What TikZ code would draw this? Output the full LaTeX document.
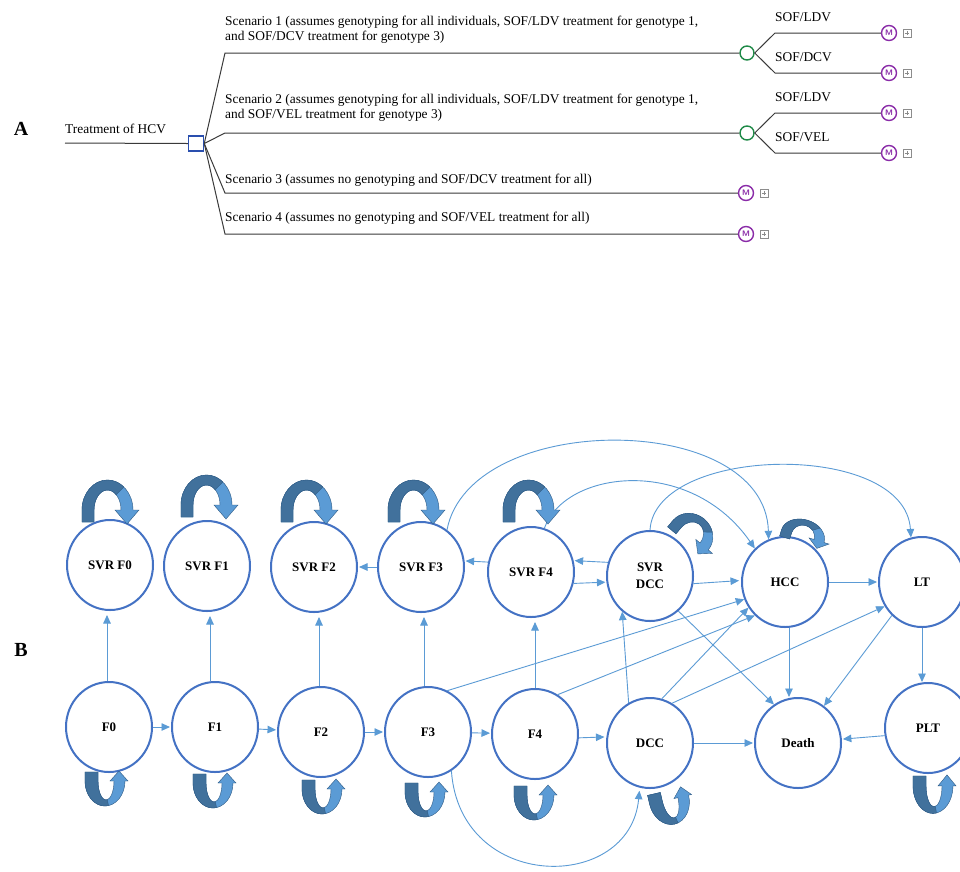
\documentclass[tikz,border=0pt]{standalone}
\usepackage{fontspec}
\setmainfont{Liberation Serif}
\usetikzlibrary{arrows.meta,shapes.geometric,calc}
\definecolor{connblue}{HTML}{5B9BD5}
\definecolor{ringblue}{HTML}{4472C4}
\definecolor{loopdark}{HTML}{41719C}
\definecolor{looplight}{HTML}{5B9BD5}
\definecolor{loopedge}{HTML}{2F5B85}
\definecolor{treegray}{HTML}{3A3A3A}
\definecolor{decblue}{HTML}{2A4FAE}
\definecolor{chancegreen}{HTML}{1F8A48}
\definecolor{markovpurple}{HTML}{8A2BA8}
\definecolor{plusgray}{HTML}{8C8C8C}

\newcommand{\looptop}[2]{%
  \begin{scope}[shift={(#1)},#2]
    \filldraw[draw=loopedge,line width=0.4pt,fill=looplight]
      (-28,0) -- (-28,12) arc[start angle=180,end angle=0,x radius=25.5,y radius=30]
      -- (29,12) -- (17,-2) -- (5,12) -- (11,12)
      arc[start angle=0,end angle=180,x radius=13.5,y radius=20] -- (-16,0) -- cycle;
    \filldraw[draw=loopedge,line width=0.4pt,fill=loopdark]
      (-28,0) -- (-28,12) arc[start angle=180,end angle=50,x radius=25.5,y radius=30]
      -- (6.18,27.32) arc[start angle=50,end angle=180,x radius=13.5,y radius=20]
      -- (-16,0) -- cycle;
  \end{scope}}

\newcommand{\loopbottom}[2]{%
  \begin{scope}[shift={(#1)},#2]
    \filldraw[draw=loopedge,line width=0.4pt,fill=looplight]
      (-24,0) -- (-24,-9) arc[start angle=180,end angle=360,x radius=20,y radius=25]
      -- (19,-9) -- (10,1) -- (1,-9) -- (5,-9)
      arc[start angle=360,end angle=180,x radius=8,y radius=19] -- (-11,0) -- cycle;
    \filldraw[draw=loopedge,line width=0.4pt,fill=loopdark]
      (-24,0) -- (-24,-9) arc[start angle=180,end angle=280,x radius=20,y radius=25]
      -- (-1.61,-27.71) arc[start angle=280,end angle=180,x radius=8,y radius=19]
      -- (-11,0) -- cycle;
  \end{scope}}

\begin{document}
\begin{tikzpicture}[x=1pt,y=1pt,
  hcvstate/.style={ellipse,draw=ringblue,line width=2pt,minimum width=86pt,minimum height=90pt,inner sep=0pt,align=center,font=\bfseries\fontsize{13}{17}\selectfont},
  link/.style={draw=connblue,line width=0.9pt,-{Triangle[length=8.5pt,width=7.5pt]}},
  tree/.style={draw=treegray,line width=1pt},
  decision/.style={rectangle,draw=decblue,line width=1.5pt,minimum size=15pt,inner sep=0pt},
  chance/.style={circle,draw=chancegreen,line width=1.4pt,minimum size=14pt,inner sep=0pt},
  markov/.style={circle,draw=markovpurple,line width=1.4pt,minimum size=15pt,inner sep=0pt,text=markovpurple,font=\sffamily\bfseries\fontsize{8}{8}\selectfont},
  plusbox/.style={rectangle,draw=plusgray,line width=0.6pt,minimum size=8pt,inner sep=0pt,
    path picture={\draw[plusgray,line width=0.6pt]
      ([xshift=-2.2pt]path picture bounding box.center) -- ([xshift=2.2pt]path picture bounding box.center)
      ([yshift=-2.2pt]path picture bounding box.center) -- ([yshift=2.2pt]path picture bounding box.center);}},
  txt/.style={font=\fontsize{13.4}{15}\selectfont,inner sep=0pt,anchor=west,align=left},
  panel/.style={font=\bfseries\fontsize{20}{20}\selectfont}]

\fill[white] (0,0) rectangle (960,-871);
\useasboundingbox (0,0) rectangle (960,-871);

% ---------------- Panel A ----------------
\node[panel] (labA) at (21,-129) {A};
\node[txt] (hcv) at (65,-129) {Treatment of HCV};
\coordinate (root) at (65,-143);
\node[decision] (dec) at (196,-143.5) {};
\draw[tree] (root) -- (dec.west);

\coordinate (s1) at (225,-53);
\coordinate (s2) at (225,-133);
\coordinate (s3) at (225,-193);
\coordinate (s4) at (225,-234);

\node[chance] (c1) at (747,-53) {};
\node[chance] (c2) at (747,-133) {};
\node[markov] (m3) at (746,-193) {M};
\node[markov] (m4) at (746,-234) {M};
\node[plusbox] (p3) at (764,-193) {};
\node[plusbox] (p4) at (764,-234) {};

\draw[tree] (dec.east) -- (s1) -- (c1.west);
\draw[tree] (dec.east) -- (s2) -- (c2.west);
\draw[tree] (dec.east) -- (s3) -- (m3.west);
\draw[tree] (dec.east) -- (s4) -- (m4.west);

\node[txt] (t1) at (225,-30) {Scenario 1 (assumes genotyping for all individuals, SOF/LDV treatment for genotype 1,\\and SOF/DCV treatment for genotype 3)};
\node[txt] (t2) at (225,-107.5) {Scenario 2 (assumes genotyping for all individuals, SOF/LDV treatment for genotype 1,\\and SOF/VEL treatment for genotype 3)};
\node[txt] (t3) at (225,-180) {Scenario 3 (assumes no genotyping and SOF/DCV treatment for all)};
\node[txt] (t4) at (225,-218) {Scenario 4 (assumes no genotyping and SOF/VEL treatment for all)};

\coordinate (b1a) at (775,-33);
\coordinate (b1b) at (775,-73);
\coordinate (b2a) at (775,-113);
\coordinate (b2b) at (775,-153);
\node[markov] (m1a) at (889,-33) {M};
\node[markov] (m1b) at (889,-73) {M};
\node[markov] (m2a) at (889,-113) {M};
\node[markov] (m2b) at (889,-153) {M};
\node[plusbox] (p1a) at (907,-33) {};
\node[plusbox] (p1b) at (907,-73) {};
\node[plusbox] (p2a) at (907,-113) {};
\node[plusbox] (p2b) at (907,-153) {};
\draw[tree] (c1.east) -- (b1a) -- (m1a.west);
\draw[tree] (c1.east) -- (b1b) -- (m1b.west);
\draw[tree] (c2.east) -- (b2a) -- (m2a.west);
\draw[tree] (c2.east) -- (b2b) -- (m2b.west);
\node[txt] (l1a) at (775,-17) {SOF/LDV};
\node[txt] (l1b) at (775,-57) {SOF/DCV};
\node[txt] (l2a) at (775,-97) {SOF/LDV};
\node[txt] (l2b) at (775,-137) {SOF/VEL};

% ---------------- Panel B ----------------
\node[panel] (labB) at (21,-650) {B};

\node[hcvstate] (SVRF0) at (110,-565) {SVR F0};
\node[hcvstate] (SVRF1) at (207,-566) {SVR F1};
\node[hcvstate] (SVRF2) at (314,-567) {SVR F2};
\node[hcvstate] (SVRF3) at (421,-567) {SVR F3};
\node[hcvstate] (SVRF4) at (531,-572) {SVR F4};
\node[hcvstate] (SVRDCC) at (650,-576) {SVR\\DCC};
\node[hcvstate] (HCC) at (785,-582) {HCC};
\node[hcvstate] (LT) at (922,-582) {LT};

\node[hcvstate] (F0) at (109,-727) {F0};
\node[hcvstate] (F1) at (215,-727) {F1};
\node[hcvstate] (F2) at (321,-732) {F2};
\node[hcvstate] (F3) at (428,-732) {F3};
\node[hcvstate] (F4) at (535,-734) {F4};
\node[hcvstate] (DCC) at (650,-743) {DCC};
\node[hcvstate] (Death) at (798,-743) {Death};
\node[hcvstate] (PLT) at (928,-728) {PLT};

% bottom row chain
\draw[link,shorten >=1pt] (F0) -- (F1);
\draw[link,shorten >=1pt] (F1) -- (F2);
\draw[link,shorten >=1pt] (F2) -- (F3);
\draw[link,shorten >=1pt] (F3) -- (F4);
\draw[link,shorten >=2pt] (F4.-5) -- (DCC.172);
\draw[link,shorten >=1pt] (DCC) -- (Death);
\draw[link,shorten >=1pt] (PLT.190) -- (Death.5);

% upward to SVR
\foreach \k/\dx in {0/-2,1/-5,2/-2,3/-4,4/0}{
  \draw[link,shorten >=4pt] ([xshift=\dx]F\k.north) -- ([xshift=\dx]F\k.north |- SVRF\k.south);
}

% SVR row
\draw[link,shorten >=1pt] (SVRF3) -- (SVRF2);
\draw[link,shorten >=1pt] (SVRF4.167) -- (SVRF3.8);
\draw[link,shorten >=1pt] (SVRDCC.162) -- (SVRF4.15);
\draw[link,shorten >=1pt] (SVRF4.-15) -- (SVRDCC.188);
\draw[link,shorten >=2pt] (SVRDCC.-10) -- (HCC.178);
\draw[link,shorten >=1pt] (HCC) -- (LT);

% other links
\draw[link] (LT.south) -- (LT.south |- PLT.north);
\draw[link] ([xshift=4pt]HCC.south) -- ([xshift=4pt]HCC.south |- Death.north);
\draw[link] (LT.228) -- (Death.55);
\draw[link] (SVRDCC.-51) -- (Death.122);
\draw[link] (DCC.118) -- (SVRDCC.232);
\draw[link] (DCC.75) -- (HCC.215);
\draw[link] (DCC.61) -- (LT.213);
\draw[link] (F3.65) -- (HCC.203);
\draw[link] (F4.60) -- (HCC.228);

% curved links
\draw[link] (SVRF3.55) .. controls (470,-410) and (765,-410) .. (HCC.111);
\draw[link] (SVRF4.73) .. controls (565,-470) and (690,-455) .. (HCC.132);
\draw[link] (SVRDCC.90) .. controls (655,-445) and (905,-440) .. (LT.104);
\draw[link,shorten >=3pt] (F3.-59) .. controls (460,-893) and (630,-893) .. (DCC.257);

% self loops (top)
\looptop{SVRF0.north}{yshift=-3}
\looptop{SVRF1.north}{xshift=2,yshift=3}
\looptop{SVRF2.north}{xshift=-5,yshift=-1}
\looptop{SVRF3.north}{xshift=-5,yshift=-1}
\looptop{SVRF4.north}{yshift=4}
\looptop{SVRDCC.center}{shift={(37,33)},rotate=-40,xscale=.9,yscale=.7}
\looptop{HCC.center}{shift={(18,39)},rotate=-17,xscale=.87,yscale=.55}

% self loops (bottom)
\loopbottom{F0.south}{yshift=1}
\loopbottom{F1.south}{xshift=2,yshift=-1}
\loopbottom{F2.south}{xshift=5,yshift=-2}
\loopbottom{F3.south}{xshift=1,yshift=-5}
\loopbottom{F4.south}{xshift=3,yshift=-6}
\loopbottom{DCC.center}{shift={(21,-47)},rotate=13}
\loopbottom{PLT.south}{xshift=9,yshift=-2,yscale=1.1}

\end{tikzpicture}
\end{document}
